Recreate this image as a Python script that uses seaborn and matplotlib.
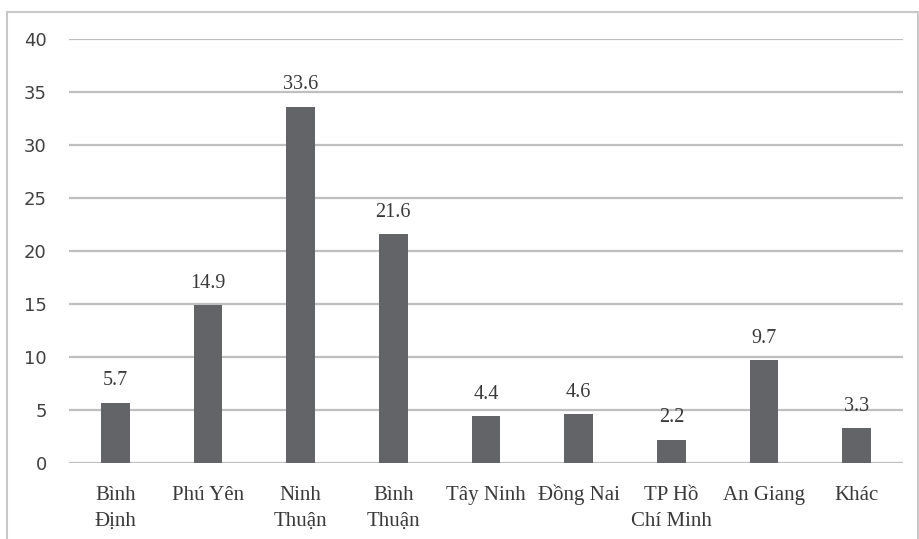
import matplotlib
matplotlib.use("Agg")
import matplotlib.pyplot as plt
import seaborn as sns
import pandas as pd
from matplotlib.patches import Rectangle

provinces = ["Bình\nĐịnh", "Phú Yên", "Ninh\nThuận", "Bình\nThuận", "Tây Ninh",
             "Đồng Nai", "TP Hồ\nChí Minh", "An Giang", "Khác"]
shares = [5.7, 14.9, 33.6, 21.6, 4.4, 4.6, 2.2, 9.7, 3.3]
y_ticks = [0, 5, 10, 15, 20, 25, 30, 35, 40]

df = pd.DataFrame({"province": provinces, "share": shares})

sns.set_theme(style="white")
plt.rcParams["font.family"] = ["DejaVu Sans"]

fig = plt.figure(figsize=(9.19, 5.39), dpi=100)
ax = fig.add_axes([0.0751, 0.141, 0.9075, 0.7866])

sns.barplot(data=df, x="province", y="share", color="#636467", saturation=1,
            width=0.31, linewidth=0, ax=ax, zorder=3)

ax.set_ylim(0, 40)
ax.set_xlim(-0.5, len(provinces) - 0.5)
ax.set_yticks(y_ticks)
ax.set_yticklabels([str(t) for t in y_ticks], fontsize=13, color="#404040")
ax.tick_params(axis="y", length=0, pad=16)
ax.tick_params(axis="x", length=0, pad=45)
ax.set_xticks(range(len(provinces)))
# every label gets two lines so that first-line baselines line up
two_line = [p if "\n" in p else p + "\n" for p in provinces]
ax.set_xticklabels(two_line, fontsize=15, family="Liberation Serif",
                   color="#3a3a3a", linespacing=1.45, va="baseline")
ax.set_xlabel("")
ax.set_ylabel("")
ax.yaxis.grid(True, color="#bfbfbf", linewidth=1.6, zorder=0)
for s in ax.spines.values():
    s.set_visible(False)

for container in ax.containers:
    ax.bar_label(container, labels=[f"{v:.1f}" for v in shares], padding=9,
                 fontsize=14.5, family="Liberation Serif", color="#3a3a3a")

# outer frame around the chart area
fig.patches.append(Rectangle((7 / 919, -0.01), 911 / 919, 1 - 12 / 539 + 0.01,
                             transform=fig.transFigure, fill=False,
                             edgecolor="#c8c8c8", linewidth=1.5))

fig.savefig("out.png", dpi=100)
